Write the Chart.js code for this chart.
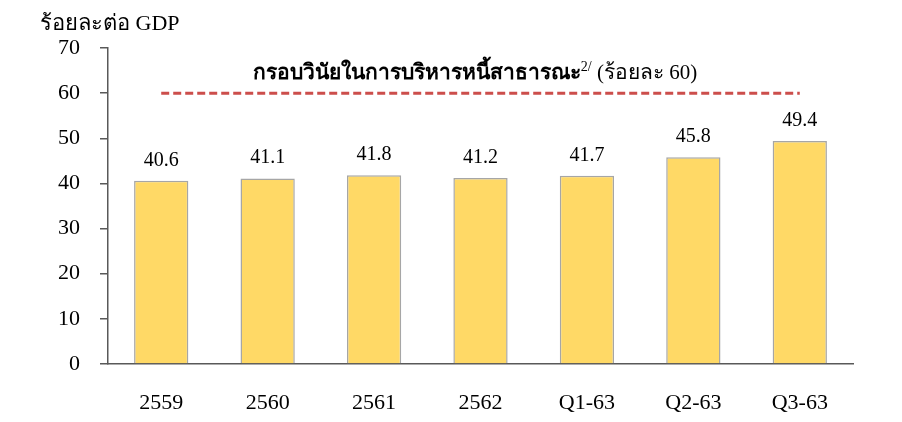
<!DOCTYPE html>
<html>
<head>
<meta charset="utf-8">
<script src="https://cdn.jsdelivr.net/npm/chart.js@4.4.0/dist/chart.umd.min.js"></script>
<style>
  html, body { margin: 0; padding: 0; background: #fff; }
  #wrap { width: 902px; height: 422px; position: relative; }
</style>
</head>
<body>
<div id="wrap"><canvas id="debtChart"></canvas></div>
<script>
// ข้อมูลหนี้สาธารณะต่อ GDP
const categories = ['2559', '2560', '2561', '2562', 'Q1-63', 'Q2-63', 'Q3-63'];
const debtValues = [40.6, 41.1, 41.8, 41.2, 41.7, 45.8, 49.4];
const ceilingValues = [60, 60, 60, 60, 60, 60, 60];
const yTicks = [0, 10, 20, 30, 40, 50, 60, 70];

const FONT = "'Liberation Serif', 'DejaVu Serif', serif";
const yUnitText = 'ร้อยละต่อ GDP';
const ceilingText = 'กรอบวินัยในการบริหารหนี้สาธารณะ';

// วาดข้อความเพิ่มเติม + ค่าบนแท่ง
const extrasPlugin = {
  id: 'extras',
  afterDatasetsDraw(chart) {
    const ctx = chart.ctx;
    ctx.save();
    ctx.fillStyle = '#000';
    ctx.textBaseline = 'alphabetic';

    // หน่วยแกน y
    ctx.font = "22px " + FONT;
    ctx.textAlign = 'left';
    ctx.fillText(yUnitText, 40, 30);

    // ค่าบนแท่ง
    ctx.font = "20px " + FONT;
    ctx.textAlign = 'center';
    chart.getDatasetMeta(0).data.forEach((bar, i) => {
      ctx.fillText(debtValues[i].toFixed(1), bar.x, bar.y - 15);
    });

    // ข้อความกรอบวินัย
    const yS = chart.scales.y;
    const cx = 475;
    const ty = yS.getPixelForValue(ceilingValues[0]) - 14;
    const p1 = ceilingText;
    const sup = '2/';
    const p2 = ' (ร้อยละ ' + ceilingValues[0] + ')';
    ctx.font = "bold 21px " + FONT;
    const w1 = ctx.measureText(p1).width;
    ctx.font = "21px " + FONT;
    const w3 = ctx.measureText(p2).width;
    ctx.font = "14px " + FONT;
    const w2 = ctx.measureText(sup).width;
    let x = cx - (w1 + w2 + w3) / 2;
    ctx.textAlign = 'left';
    ctx.font = "bold 21px " + FONT;
    ctx.fillText(p1, x, ty);
    x += w1;
    ctx.font = "14px " + FONT;
    ctx.fillText(sup, x, ty - 8);
    x += w2;
    ctx.font = "21px " + FONT;
    ctx.fillText(p2, x, ty);
    ctx.restore();
  }
};

new Chart(document.getElementById('debtChart'), {
  data: {
    labels: categories,
    datasets: [
      {
        type: 'bar',
        data: debtValues,
        backgroundColor: '#FFD966',
        borderColor: '#A6A6A6',
        borderWidth: 1.5,
        barPercentage: 0.51,
        categoryPercentage: 1,
        order: 2
      },
      {
        type: 'line',
        data: ceilingValues,
        borderColor: '#CC4E4B',
        borderWidth: 3,
        borderDash: [8, 4],
        pointRadius: 0,
        fill: false,
        order: 1
      }
    ]
  },
  options: {
    responsive: true,
    maintainAspectRatio: false,
    animation: false,
    layout: { padding: { top: 48, right: 49, left: 0, bottom: 0 } },
    plugins: {
      legend: { display: false },
      tooltip: { enabled: false }
    },
    scales: {
      x: {
        afterFit(axis) { axis.height = 58; },
        grid: { display: false, drawTicks: false },
        border: { display: true, color: '#595959', width: 1.5 },
        ticks: { color: '#000', font: { family: FONT, size: 22 }, padding: 26 }
      },
      y: {
        min: 0,
        max: 70,
        afterFit(axis) { axis.width = 108; },
        afterBuildTicks(axis) { axis.ticks = yTicks.map(v => ({ value: v })); },
        grid: { display: true, drawOnChartArea: false, drawTicks: true, tickLength: 8, color: '#595959', lineWidth: 1.5 },
        border: { display: true, color: '#595959', width: 1.5 },
        ticks: { color: '#000', font: { family: FONT, size: 22 }, padding: 20 }
      }
    }
  },
  plugins: [extrasPlugin]
});
</script>
</body>
</html>
